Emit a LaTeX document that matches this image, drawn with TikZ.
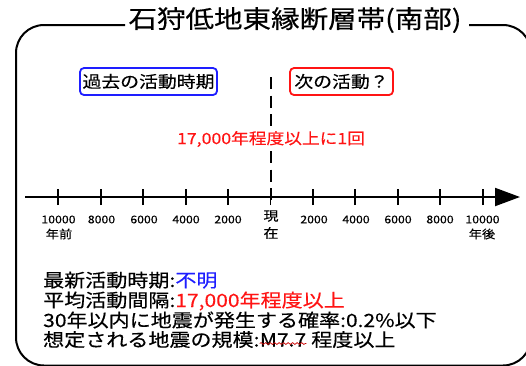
\documentclass[tikz,border=0pt]{standalone}
\usepackage{fontspec}
\setmainfont[FakeStretch=1.15,FakeBold=0.35]{Noto Sans CJK JP}
\usetikzlibrary{arrows.meta,decorations.pathmorphing}
\definecolor{tagblue}{RGB}{30,30,255}
\definecolor{tagred}{RGB}{255,20,20}
\begin{document}
\begin{tikzpicture}[x=1pt,y=-1pt,
  frame/.style={line width=2pt, rounded corners=28pt},
  titletext/.style={inner sep=0pt, font=\fontsize{24.8}{28}\selectfont},
  tagbox/.style={draw, line width=1.8pt, rounded corners=4pt, minimum height=27pt, inner xsep=1.5pt, inner ysep=0pt, font=\fontsize{16.4}{18}\selectfont},
  tickmark/.style={line width=1.8pt},
  numlabel/.style={inner sep=0pt, font=\fontsize{10.7}{12}\selectfont},
  unitlabel/.style={inner sep=0pt, font=\fontsize{11.5}{13}\selectfont},
  nowlabel/.style={inner sep=0pt, font=\fontsize{13}{14}\selectfont},
  infoline/.style={anchor=base west, inner sep=0pt, font=\fontsize{18.3}{20}\selectfont},
  nowline/.style={line width=2pt, dash pattern=on 12pt off 6.5pt},
  axisline/.style={line width=2pt, -{Triangle[length=25pt,width=18pt]}},
  squiggle/.style={red!80!black, line width=0.7pt, decorate, decoration={snake, amplitude=0.9pt, segment length=4.5pt}}
]
\useasboundingbox (0,0) rectangle (526,365);

% title and frame
\node[titletext] (title) at (295,20) {石狩低地東縁断層帯(南部)};
\coordinate (fl) at (125,25);
\coordinate (fr) at (469,25);
\draw[frame] (fl) -- (16,25) -- (16,365.5) -- (531,365.5) -- (531,25) -- (fr);

% now line
\coordinate (nowtop) at (271,77);
\coordinate (nowbot) at (271,200);
\draw[nowline] (nowtop) -- (nowbot);

% tag boxes
\node[tagbox, draw=tagblue, minimum width=137pt] (past) at (148.5,81.5) {過去の活動時期};
\node[tagbox, draw=tagred, minimum width=103pt] (next) at (341.5,81.5) {次の活動？};

% interval text
\node[fill=white, inner sep=1pt, text=tagred, font=\fontsize{15.4}{17}\selectfont] (interval) at (271,139) {17,000年程度以上に1回};

% axis
\coordinate (axl) at (25,197);
\coordinate (axr) at (520,197);
\draw[axisline] (axl) -- (axr);
\foreach \i in {0,...,10} {
  \pgfmathsetmacro{\tx}{58.3+42.44*\i}
  \coordinate (t\i) at (\tx,197);
  \draw[tickmark] ([yshift=-8pt]t\i) -- ([yshift=8pt]t\i);
}
\node[numlabel] (l0) at (58.5,219.5) {10000};
\node[unitlabel] (u0) at (59,234) {年前};
\node[numlabel] (l1) at (101.5,219.5) {8000};
\node[numlabel] (l2) at (144,219.5) {6000};
\node[numlabel] (l3) at (186,219.5) {4000};
\node[numlabel] (l4) at (228,219.5) {2000};
\node[nowlabel] (n1) at (271,216) {現};
\node[nowlabel] (n2) at (271,233) {在};
\node[numlabel] (l6) at (314,219.5) {2000};
\node[numlabel] (l7) at (356,219.5) {4000};
\node[numlabel] (l8) at (398,219.5) {6000};
\node[numlabel] (l9) at (440,219.5) {8000};
\node[numlabel] (l10) at (482.5,219.5) {10000};
\node[unitlabel] (u10) at (482,234) {年後};

% information lines
\node[infoline] (i1) at (43,287) {最新活動時期:\textcolor{tagblue}{不明}};
\node[infoline] (i2) at (43,307) {平均活動間隔:\textcolor{tagred}{17,000年程度以上}};
\node[infoline] (i3) at (43,327) {30年以内に地震が発生する確率:0.2\%以下};
\node[infoline] (i4a) at (43,346.5) {想定される地震の規模:};
\node[infoline] (i4b) at (i4a.base east) {M7.7};
\node[infoline] (i4c) at (i4b.base east) {\ 程度以上};
\draw[squiggle] ([yshift=3pt]i4b.base west) -- ([yshift=3pt]i4b.base east);
\end{tikzpicture}
\end{document}
